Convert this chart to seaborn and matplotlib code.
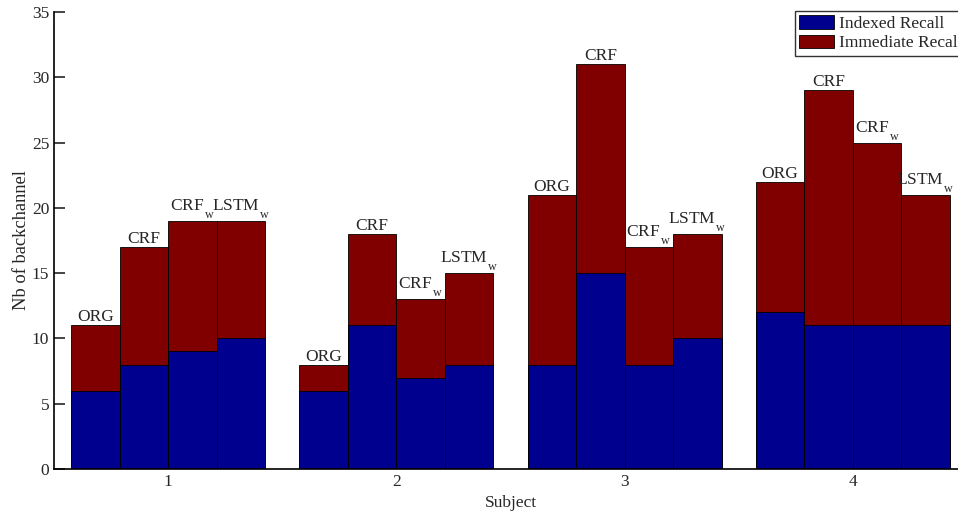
import numpy as np
import pandas as pd
import matplotlib
matplotlib.use("Agg")
import matplotlib.pyplot as plt
from matplotlib.patches import Patch
import seaborn as sns

# Backchannel counts per subject and model
subjects = ["1", "2", "3", "4"]
methods = ["ORG", "CRF", "CRF_w", "LSTM_w"]
method_labels = ["ORG", "CRF", r"CRF$_{\mathregular{w}}$", r"LSTM$_{\mathregular{w}}$"]

indexed_org = [6, 6, 8, 12]
indexed_crf = [8, 11, 15, 11]
indexed_crfw = [9, 7, 8, 11]
indexed_lstmw = [10, 8, 10, 11]

immediate_org = [5, 2, 13, 10]
immediate_crf = [9, 7, 16, 18]
immediate_crfw = [10, 6, 9, 14]
immediate_lstmw = [9, 7, 8, 10]

series_names = ["Indexed Recall", "Immediate Recall"]
blue = "#00008f"
red = "#800000"

sns.set_style("ticks")
plt.rcParams["font.family"] = ["Liberation Serif", "DejaVu Serif"]
plt.rcParams["mathtext.fontset"] = "custom"
plt.rcParams["mathtext.rm"] = "Liberation Serif"
plt.rcParams["mathtext.it"] = "Liberation Serif:italic"
plt.rcParams["font.size"] = 12.5

# deeper, slightly detached subscripts for the model names
try:
    import matplotlib._mathtext as _mt
    _mt.FontConstantsBase.sub1 = 1.1
    _mt.FontConstantsBase.delta = 0.25
except Exception:
    pass

indexed = [indexed_org, indexed_crf, indexed_crfw, indexed_lstmw]
immediate = [immediate_org, immediate_crf, immediate_crfw, immediate_lstmw]

rows = []
for m, idx, imm in zip(methods, indexed, immediate):
    for s, a, b in zip(subjects, idx, imm):
        rows.append({"Subject": s, "Method": m, "Indexed": a, "Total": a + b})
df = pd.DataFrame(rows)

fig = plt.figure(figsize=(9.58, 5.16), dpi=100)
ax = fig.add_axes([54 / 958, 47 / 516, 913 / 958, 457 / 516])

common = dict(data=df, x="Subject", hue="Method", order=subjects, hue_order=methods,
              errorbar=None, width=0.85, saturation=1, edgecolor="black",
              linewidth=0.6, legend=False, ax=ax)
sns.barplot(y="Total", palette=[red] * 4, **common)
n_total = len(ax.containers)
sns.barplot(y="Indexed", palette=[blue] * 4, **common)

# method names above each stacked bar
for cont, lab in zip(ax.containers[:n_total], method_labels):
    for bar in cont:
        ax.annotate(lab, (bar.get_x() + bar.get_width() / 2, bar.get_height()),
                    xytext=(0, 0), textcoords="offset points",
                    ha="center", va="bottom", fontsize=12.5)

ax.set_xlim(-0.5, 3.5)
ax.set_ylim(0, 35)
ax.set_yticks(np.arange(0, 36, 5))
ax.set_xlabel("Subject", fontsize=12.5, labelpad=4)
ax.set_ylabel("Nb of backchannel", fontsize=13.3, labelpad=1)
ax.tick_params(direction="in", length=8, width=1.2, labelsize=12.5)
for side in ["top", "right"]:
    ax.spines[side].set_visible(False)
for side in ["left", "bottom"]:
    ax.spines[side].set_linewidth(1.2)
    ax.spines[side].set_color("black")

handles = [Patch(facecolor=blue, edgecolor="black", linewidth=0.6),
           Patch(facecolor=red, edgecolor="black", linewidth=0.6)]
leg = ax.legend(handles, series_names, loc="upper left",
                bbox_to_anchor=(795 / 958, 1 - 11 / 516), bbox_transform=fig.transFigure,
                borderaxespad=0, borderpad=0.25, labelspacing=0.15,
                handlelength=2.0, handleheight=0.8, handletextpad=0.3,
                fancybox=False, frameon=True, fontsize=12.5)
leg.get_frame().set_edgecolor("black")
leg.get_frame().set_linewidth(1.0)

fig.savefig("out.png", dpi=100)
